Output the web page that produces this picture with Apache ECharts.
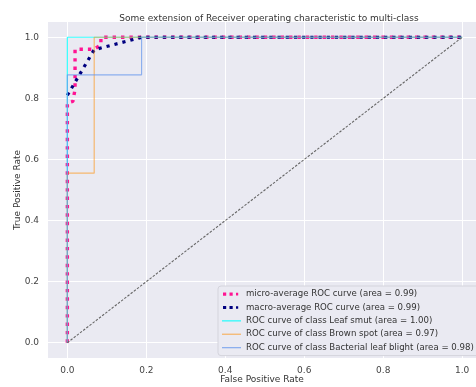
<!DOCTYPE html>
<html>
<head>
<meta charset="utf-8">
<script src="https://cdn.jsdelivr.net/npm/echarts@6/dist/echarts.min.js"></script>
<style>html,body{margin:0;padding:0;background:#fff;}#c{width:476px;height:387px;}</style>
</head>
<body>
<div id="c"></div>
<script>
const tickValues = [0, 0.2, 0.4, 0.6, 0.8, 1.0];
const microFpr = [0, 0, 0.014, 0.0195, 0.0195, 0.068, 0.085, 0.085, 1];
const microTpr = [0, 0.785, 0.79, 0.83, 0.961, 0.961, 0.975, 1, 1];
const macroFpr = [0, 0.068, 0.188, 1];
const macroTpr = [0.81, 0.959, 1, 1];
const leafSmutFpr = [0, 0, 1];
const leafSmutTpr = [0, 1, 1];
const brownSpotFpr = [0, 0, 0.068, 0.068, 1];
const brownSpotTpr = [0, 0.555, 0.555, 1, 1];
const blightFpr = [0, 0, 0.188, 0.188, 1];
const blightTpr = [0, 0.877, 0.877, 1, 1];
const diagFpr = [0, 1];
const diagTpr = [0, 1];
const names = [
  'micro-average ROC curve (area = 0.99)',
  'macro-average ROC curve (area = 0.99)',
  'ROC curve of class Leaf smut (area = 1.00)',
  'ROC curve of class Brown spot (area = 0.97)',
  'ROC curve of class Bacterial leaf blight (area = 0.98)'
];
const zip = (a, b) => a.map((v, i) => [v, b[i]]);

const dotIcon = 'path://M0,0L0,0M19,10L19,10M1,3.5h3.2v3.2h-3.2zM7.5,3.5h3.2v3.2h-3.2zM14,3.8h2.2v2.6h-2.2z';
const lineIcon = 'path://M0,0L0,0M19,10L19,10M0,4.4h19v1.3h-19z';
const colors = ['#FF1493', '#000080', '#00FFFF', '#FF8C00', '#6495ED'];
const iconColors = ['#FF1493', '#000080', 'rgba(0,255,255,0.8)', 'rgba(255,140,0,0.55)', 'rgba(100,149,237,0.7)'];

const chart = echarts.init(document.getElementById('c'), null, {renderer: 'canvas'});
const font = 'DejaVu Sans';
const axisCommon = {
  type: 'value',
  axisLine: {show: false},
  axisTick: {show: false, customValues: tickValues},
  splitLine: {show: true, lineStyle: {color: '#ffffff', width: 1}, customValues: tickValues},
  nameLocation: 'middle',
  nameMoveOverlap: false,
  nameTextStyle: {fontFamily: font, fontSize: 9, color: '#333'}
};
chart.setOption({
  animation: false,
  title: {
    text: 'Some extension of Receiver operating characteristic to multi-class',
    left: 264, top: 9, textAlign: 'center',
    textStyle: {fontFamily: font, fontSize: 9, fontWeight: 'normal', color: '#333'}
  },
  grid: {left: 48, right: 0, top: 22, bottom: 29, show: true, backgroundColor: '#EAEAF2', borderWidth: 0,
         containLabel: false, outerBoundsMode: 'none'},
  xAxis: Object.assign({}, axisCommon, {
    min: -0.049, max: 1.035,
    name: 'False Positive Rate', nameGap: 17,
    axisLabel: {customValues: tickValues, margin: 8, fontFamily: font, fontSize: 9, color: '#444', formatter: v => v.toFixed(1)}
  }),
  yAxis: Object.assign({}, axisCommon, {
    min: -0.05, max: 1.05,
    name: 'True Positive Rate', nameGap: 26,
    axisLabel: {customValues: tickValues, margin: 9, fontFamily: font, fontSize: 9, color: '#444', formatter: v => v.toFixed(1)}
  }),
  legend: {
    orient: 'vertical', left: 218, top: 286,
    padding: [3, 40, 3, 4], itemGap: 3.4, itemWidth: 19, itemHeight: 10,
    backgroundColor: '#EAEAF2', borderColor: '#d4d4dc', borderWidth: 1, borderRadius: 3,
    textStyle: {fontFamily: font, fontSize: 8.6, color: '#333', lineHeight: 10},
    data: names.map((n, i) => ({name: n, icon: i < 2 ? dotIcon : lineIcon, itemStyle: {color: iconColors[i], borderWidth: 0}}))
  },
  series: [
    {name: names[0], type: 'line', data: zip(microFpr, microTpr), symbol: 'none', z: 2,
     lineStyle: {color: colors[0], width: 3.4, type: [3.4, 5], cap: 'butt'}, itemStyle: {color: colors[0]}},
    {name: names[1], type: 'line', data: zip(macroFpr, macroTpr), symbol: 'none', z: 3,
     lineStyle: {color: colors[1], width: 3.2, type: [3.2, 5], cap: 'butt'}, itemStyle: {color: colors[1]}},
    {name: names[2], type: 'line', data: zip(leafSmutFpr, leafSmutTpr), symbol: 'none', z: 4,
     lineStyle: {color: colors[2], width: 1.2, opacity: 0.8}, itemStyle: {color: colors[2]}},
    {name: names[3], type: 'line', data: zip(brownSpotFpr, brownSpotTpr), symbol: 'none', z: 5,
     lineStyle: {color: colors[3], width: 1.2, opacity: 0.55}, itemStyle: {color: colors[3]}},
    {name: names[4], type: 'line', data: zip(blightFpr, blightTpr), symbol: 'none', z: 6,
     lineStyle: {color: colors[4], width: 1.2, opacity: 0.7}, itemStyle: {color: colors[4]}},
    {name: 'diag', type: 'line', data: zip(diagFpr, diagTpr), symbol: 'none', z: 7,
     lineStyle: {color: '#666', width: 1.1, type: [2.5, 1.5]}}
  ]
});
</script>
</body>
</html>
